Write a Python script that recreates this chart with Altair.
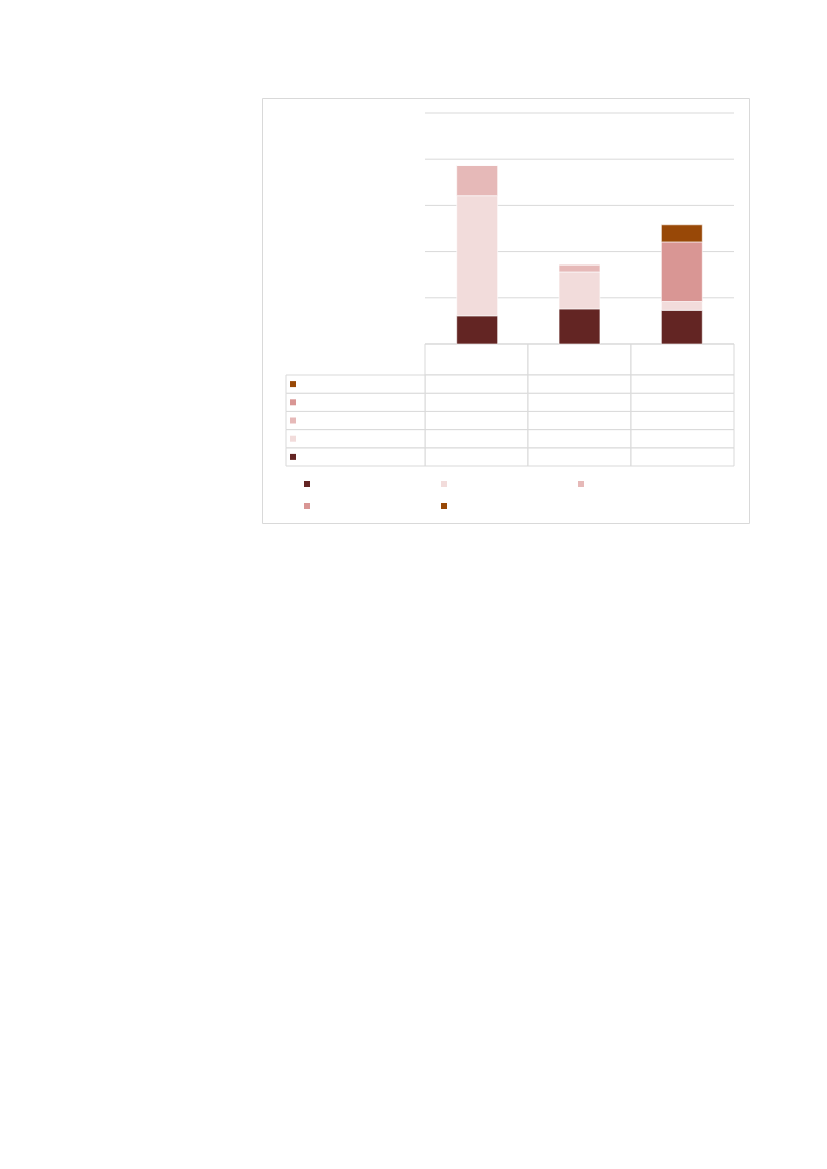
import altair as alt
import pandas as pd

# Text is absent in the reference: names are kept but never displayed
categories = ["Category 1", "Category 2", "Category 3"]
series = ["Series 1", "Series 2", "Series 3", "Series 4", "Series 5"]
colors = ["#632523", "#F2DCDB", "#E6B9B8", "#D99694", "#984807"]

s1 = [0.61, 0.76, 0.73]
s2 = [2.60, 0.80, 0.19]
s3 = [0.66, 0.14, 0.00]
s4 = [0.00, 0.03, 1.29]
s5 = [0.00, 0.00, 0.37]
ticks = [0, 1, 2, 3, 4, 5]

values = [s1, s2, s3, s4, s5]
rows = []
for si, (name, vals) in enumerate(zip(series, values)):
    for c, v in zip(categories, vals):
        rows.append({"category": c, "series": name, "value": v, "order": si})
bars_df = pd.DataFrame(rows)
grid_df = pd.DataFrame({"tick": ticks})
header_df = pd.DataFrame({"category": categories, "row": ["header"] * 3})
cells_df = pd.DataFrame([{"category": c, "series": s} for s in series for c in categories])
label_df = pd.DataFrame({"series": series, "col": ["label"] * len(series)})

GRID = "#d9d9d9"
color_scale = alt.Scale(domain=series, range=colors)
legend = alt.Legend(
    orient="none", legendX=40, legendY=381, columns=3, direction="horizontal",
    title=None, labelExpr="''", symbolType="square", symbolSize=36,
    symbolStrokeWidth=0, columnPadding=123, rowPadding=12,
    labelFontSize=10, symbolOpacity=1,
)

x_bar = alt.Scale(domain=categories, range=[163, 472], paddingInner=0.6, paddingOuter=0.31)
y_val = alt.Scale(domain=[0, 5], range=[246, 15], nice=False, zero=True)
x_cell = alt.Scale(domain=categories, range=[163, 472], paddingInner=0, paddingOuter=0)
y_rows = alt.Scale(domain=series[::-1], range=[277, 368], paddingInner=0, paddingOuter=0)
y_head = alt.Scale(domain=["header"], range=[246, 277], paddingInner=0, paddingOuter=0)
x_label = alt.Scale(domain=["label"], range=[24, 163], paddingInner=0, paddingOuter=0)
x_key = alt.Scale(type="point", domain=["label"], range=[31, 163], padding=0, align=0)

grid = alt.Chart(grid_df).mark_rule(color=GRID, strokeWidth=1).encode(
    x=alt.datum(0, scale=alt.Scale(domain=[0, 1], range=[163, 472]), axis=None),
    x2=alt.datum(1),
    y=alt.Y("tick:Q", scale=y_val, axis=None),
)

bars = alt.Chart(bars_df).mark_bar(stroke="white", strokeWidth=0.6).encode(
    x=alt.X("category:N", scale=x_bar, axis=None, sort=categories),
    y=alt.Y("value:Q", scale=y_val, axis=None, stack="zero"),
    color=alt.Color("series:N", scale=color_scale, legend=legend),
    order=alt.Order("order:Q", sort="ascending"),
)

header = alt.Chart(header_df).mark_rect(fill="white", stroke=GRID, strokeWidth=1).encode(
    x=alt.X("category:N", scale=x_cell, axis=None, sort=categories),
    y=alt.Y("row:N", scale=y_head, axis=None),
)

cells = alt.Chart(cells_df).mark_rect(fill="white", stroke=GRID, strokeWidth=1).encode(
    x=alt.X("category:N", scale=x_cell, axis=None, sort=categories),
    y=alt.Y("series:N", scale=y_rows, axis=None),
)

label_cells = alt.Chart(label_df).mark_rect(fill="white", stroke=GRID, strokeWidth=1).encode(
    x=alt.X("col:N", scale=x_label, axis=None),
    y=alt.Y("series:N", scale=y_rows, axis=None),
)

keys = alt.Chart(label_df).mark_point(shape="square", filled=True, size=36, opacity=1).encode(
    x=alt.X("col:N", scale=x_key, axis=None),
    y=alt.Y("series:N", scale=y_rows, axis=None),
    color=alt.Color("series:N", scale=color_scale, legend=legend),
)

chart = alt.layer(header, cells, label_cells, keys, grid, bars).resolve_scale(
    x="independent", y="independent", color="shared"
).properties(
    width=487, height=425,
    autosize=alt.AutoSizeParams(type="none"),
    padding={"left": 254, "top": 90, "right": 10, "bottom": 10},
).configure_view(stroke=GRID, strokeWidth=1)

chart.save("out.html", embed_options={"renderer": "svg", "actions": False})
